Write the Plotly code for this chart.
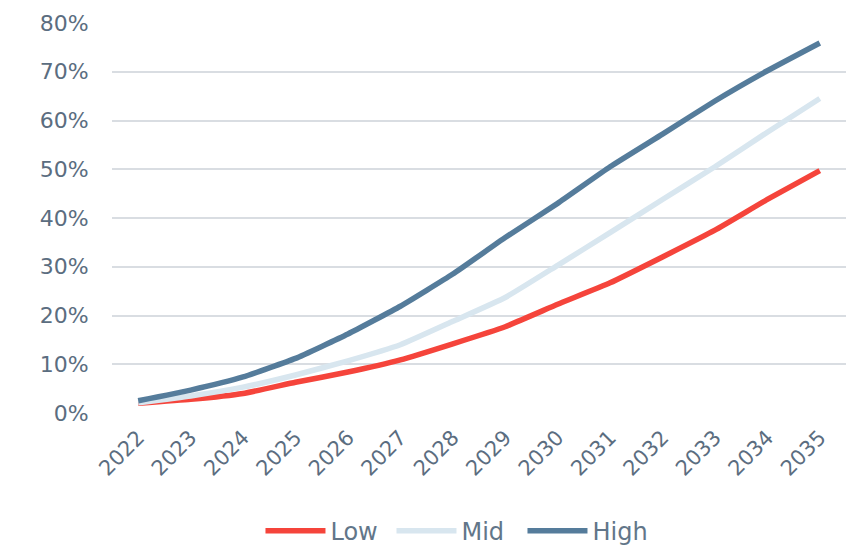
import plotly.graph_objects as go

years = [str(y) for y in range(2022, 2036)]
low = [2.0, 2.8, 4.0, 6.3, 8.4, 10.9, 14.2, 17.7, 22.3, 26.7, 32.0, 37.5, 43.8, 49.7]
mid = [2.1, 3.5, 5.3, 7.8, 10.7, 14.0, 18.8, 23.7, 30.3, 37.0, 43.8, 50.5, 57.6, 64.5]
high = [2.5, 4.7, 7.4, 11.2, 16.2, 21.9, 28.5, 36.0, 43.0, 50.5, 57.2, 64.0, 70.2, 75.9]

series = [("Low", low, "#f5443b"), ("Mid", mid, "#d8e6ef"), ("High", high, "#557c9b")]

fig = go.Figure()
for name, vals, color in series:
    fig.add_trace(go.Scatter(x=years, y=vals, name=name, mode="lines",
                             line=dict(color=color, width=5.5, shape="spline", smoothing=0.4)))

txt = "#5b6d80"
fig.update_layout(
    width=847, height=537,
    margin=dict(l=104, r=9, t=15, b=132, autoexpand=False),
    plot_bgcolor="white", paper_bgcolor="white",
    font=dict(family="DejaVu Sans", size=21, color=txt),
    showlegend=True,
    legend=dict(orientation="h", x=0.47, xanchor="center", y=-0.303, yanchor="middle",
                font=dict(size=24, color="#627689"), itemwidth=60, tracegroupgap=0,
                entrywidth=56, entrywidthmode="pixels"),
    xaxis=dict(type="category", tickangle=-45, showgrid=False, showline=False,
               range=[-0.5, 13.5], automargin=False,
               ticks="outside", ticklen=3, tickcolor="rgba(0,0,0,0)",
               tickfont=dict(size=21, color=txt)),
    yaxis=dict(range=[0, 80], dtick=10, ticksuffix="%", showgrid=True,
               gridcolor="#d9dde2", gridwidth=2, zeroline=False, showline=False,
               automargin=False,
               ticks="outside", ticklen=18, tickcolor="rgba(0,0,0,0)",
               tickfont=dict(size=22, color=txt)),
)
fig.write_html("out.html")
